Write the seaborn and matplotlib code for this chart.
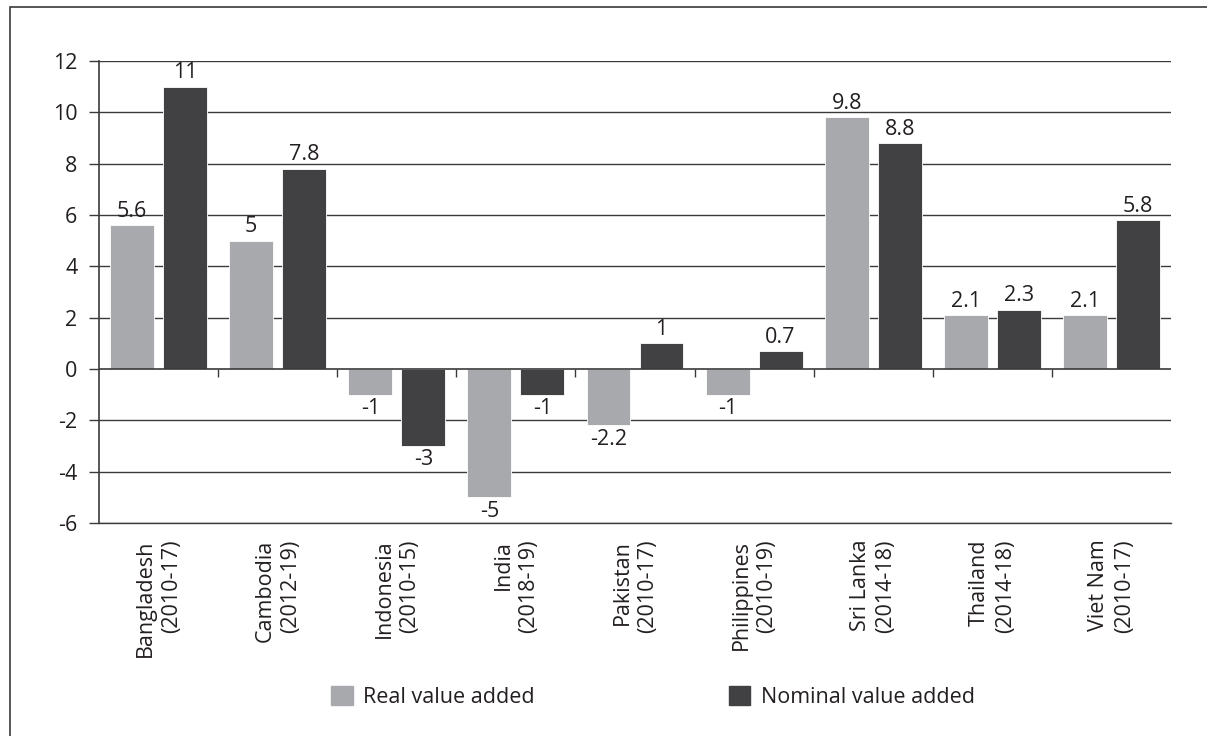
import matplotlib
matplotlib.use("Agg")
import matplotlib.pyplot as plt
import seaborn as sns
import pandas as pd
import numpy as np
from matplotlib.patches import Rectangle

countries = ["Bangladesh\n(2010-17)", "Cambodia\n(2012-19)", "Indonesia\n(2010-15)",
             "India\n(2018-19)", "Pakistan\n(2010-17)", "Philippines\n(2010-19)",
             "Sri Lanka\n(2014-18)", "Thailand\n(2014-18)", "Viet Nam\n(2010-17)"]
real_va = [5.6, 5, -1, -5, -2.2, -1, 9.8, 2.1, 2.1]
nominal_va = [11, 7.8, -3, -1, 1, 0.7, 8.8, 2.3, 5.8]
series_names = ["Real value added", "Nominal value added"]
yticks = [-6, -4, -2, 0, 2, 4, 6, 8, 10, 12]

df = pd.DataFrame({
    "country": countries * 2,
    "value": real_va + nominal_va,
    "series": [series_names[0]] * len(countries) + [series_names[1]] * len(countries),
})

sns.set_theme(style="white")
plt.rcParams["font.family"] = ["Open Sans", "DejaVu Sans"]

FS = 15.5
TXT = "#231f20"

fig = plt.figure(figsize=(12.07, 7.36), dpi=100)
ax = fig.add_axes([99 / 1207, 1 - 523 / 736, (1171 - 99) / 1207, (523 - 61) / 736])

palette = {series_names[0]: "#a7a9ac", series_names[1]: "#414042"}
sns.barplot(data=df, x="country", y="value", hue="series", palette=palette,
            width=0.89, gap=0.17, ax=ax, saturation=1, edgecolor="white", linewidth=0.6)

ax.set_ylim(-6, 12)
ax.set_xlim(-0.5, len(countries) - 0.5)
ax.set_yticks(yticks)
ax.set_yticklabels([str(v) for v in yticks], fontsize=FS, color=TXT)
ax.set_xlabel("")
ax.set_ylabel("")
for v in yticks:
    if v != 0:
        ax.axhline(v, color="#3a3a3a", lw=1.0, zorder=0)
ax.axhline(0, color="#3a3a3a", lw=1.2, zorder=3)

for s in ["top", "right"]:
    ax.spines[s].set_visible(False)
ax.spines["left"].set_color("#3a3a3a")
ax.spines["left"].set_linewidth(1.2)
ax.spines["bottom"].set_color("#3a3a3a")
ax.spines["bottom"].set_linewidth(1.0)
ax.tick_params(axis="y", direction="out", length=7.5, width=1, color="#3a3a3a", pad=8, left=True)
ax.tick_params(axis="x", length=0, pad=12)
ax.set_xticks(range(len(countries)))
ax.set_xticklabels(countries, rotation=90, fontsize=FS, color=TXT, va="top", ha="center",
                   linespacing=1.3)
for lab in ax.get_xticklabels():
    lab.set_multialignment("right")

# boundary ticks on the zero line
sec = ax.secondary_xaxis(6 / 18)
sec.set_xticks(np.arange(0.5, len(countries) - 1, 1.0))
sec.set_xticklabels([])
sec.tick_params(direction="out", length=6, width=1, color="#3a3a3a")
sec.spines["bottom"].set_visible(False)

# value labels
for cont in ax.containers:
    labels = [f"{bar.get_height():g}" for bar in cont]
    ax.bar_label(cont, labels=labels, padding=2.5, fontsize=FS, color=TXT)

if ax.legend_:
    ax.legend_.remove()
handles = [Rectangle((0, 0), 1, 1, color=palette[n]) for n in series_names]
fig.legend(handles, series_names, loc="center", bbox_to_anchor=(653 / 1207, 1 - 697 / 736),
           ncol=2, frameon=False, fontsize=FS, handlelength=1.0, handleheight=1.0,
           columnspacing=9.0, handletextpad=0.5, labelcolor=TXT)

fig.patches.append(Rectangle((10 / 1207, -0.1), 1.2, 1 - 7 / 736 + 0.1, transform=fig.transFigure,
                             fill=False, edgecolor="#3a3a3a", lw=1.2, figure=fig))

fig.savefig("out.png", dpi=100, facecolor="white")
